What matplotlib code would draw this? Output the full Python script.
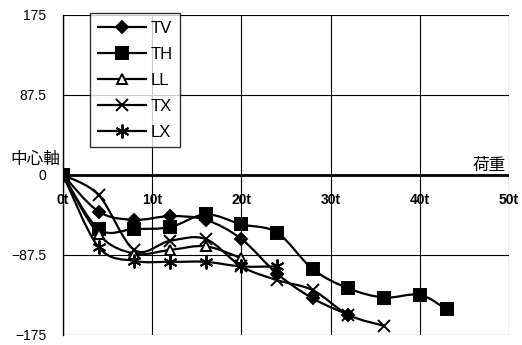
import matplotlib
matplotlib.use("Agg")
import matplotlib.pyplot as plt
from matplotlib.path import Path
from matplotlib.patches import PathPatch
from matplotlib.lines import Line2D

plt.rcParams['font.family'] = ['Liberation Sans', 'Noto Sans CJK JP']

# load steps (t)
x_tv = [0, 4, 8, 12, 16, 20, 24, 28, 32]
tv = [0, -40, -49, -45, -49, -70, -108, -135, -153]
x_th = [0, 4, 8, 12, 16, 20, 24, 28, 32, 36, 40, 43]
th = [0, -59, -59, -57, -43, -54, -63, -103, -124, -134, -131, -147]
x_ll = [0, 4, 8, 12, 16, 20]
ll = [0, -65, -86, -82, -78, -91]
x_tx = [0, 4, 8, 12, 16, 20, 24, 28, 32, 36]
tx = [0, -22, -82, -72, -70, -100, -115, -126, -153, -165]
x_lx = [0, 4, 8, 12, 16, 20, 24]
lx = [0, -79, -94, -95, -95, -100, -100]

names = ['TV', 'TH', 'LL', 'TX', 'LX']
xs = [x_tv, x_th, x_ll, x_tx, x_lx]
ys = [tv, th, ll, tx, lx]
markers = ['D', 's', '^', 'x', (6, 2, 0)]
msizes = [6, 8, 7, 9, 10]
faces = ['black', 'black', 'white', 'black', 'black']

yticks = [-175, -87.5, 0, 87.5, 175]
xticks = [0, 10, 20, 30, 40, 50]
xlabels = ['0t', '10t', '20t', '30t', '40t', '50t']


def smooth_path(px, py):
    # excel-like smoothed line: catmull-rom as cubic bezier
    pts = list(zip(px, py))
    verts = [pts[0]]
    codes = [Path.MOVETO]
    n = len(pts)
    for i in range(n - 1):
        p0 = pts[i - 1] if i > 0 else pts[i]
        p1 = pts[i]
        p2 = pts[i + 1]
        p3 = pts[i + 2] if i + 2 < n else pts[i + 1]
        c1 = (p1[0] + (p2[0] - p0[0]) / 6, p1[1] + (p2[1] - p0[1]) / 6)
        c2 = (p2[0] - (p3[0] - p1[0]) / 6, p2[1] - (p3[1] - p1[1]) / 6)
        verts += [c1, c2, p2]
        codes += [Path.CURVE4] * 3
    return Path(verts, codes)


fig = plt.figure(figsize=(5.22, 3.45), dpi=100)
ax = fig.add_axes([63 / 522, 1 - 335 / 345, 446 / 522, 320 / 345])

handles = []
for px, py, m, ms, fc, nm in zip(xs, ys, markers, msizes, faces, names):
    ax.add_patch(PathPatch(smooth_path(px, py), fill=False, lw=1.6, color='black', zorder=3))
    ax.plot(px, py, ls='none', marker=m, ms=ms, mfc=fc, mec='black', mew=1.4, zorder=4)
    handles.append(Line2D([], [], color='black', lw=1.6, marker=m, ms=ms, mfc=fc, mec='black', mew=1.4))

ax.set_xlim(0, 50)
ax.set_ylim(-175, 175)
ax.set_yticks(yticks)
ax.set_yticklabels(['−175', '−87.5', '0', '87.5', '175'], fontsize=10)
ax.set_xticks(xticks)
ax.set_xticklabels([])
ax.tick_params(axis='y', length=0, pad=12)
ax.tick_params(axis='x', length=0)
ax.grid(True, color='black', lw=0.8)
for s in ['top', 'right', 'bottom']:
    ax.spines[s].set_visible(False)
ax.spines['left'].set_linewidth(1.0)
ax.axhline(0, color='black', lw=2, zorder=2)

for xt, lab in zip(xticks, xlabels):
    ax.annotate(lab, (xt, 0), xytext=(0, -18), textcoords='offset points',
                ha='center', va='center', fontsize=10, fontweight='bold')

ax.annotate('中心軸', (0, 0), xytext=(-20, 11), textcoords='offset points',
            ha='center', va='center', fontsize=12)
ax.text(47.8, 2.5, '荷重', ha='center', va='bottom', fontsize=12)

leg = ax.legend(handles, names, loc='upper left', bbox_to_anchor=(27 / 446, 1.006),
                borderaxespad=0, frameon=True, fancybox=False, edgecolor='black',
                fontsize=12, handlelength=2.9, labelspacing=0.66, borderpad=0.45,
                handletextpad=0.3)
leg.get_frame().set_linewidth(1.0)

fig.savefig('out.png', dpi=100)
